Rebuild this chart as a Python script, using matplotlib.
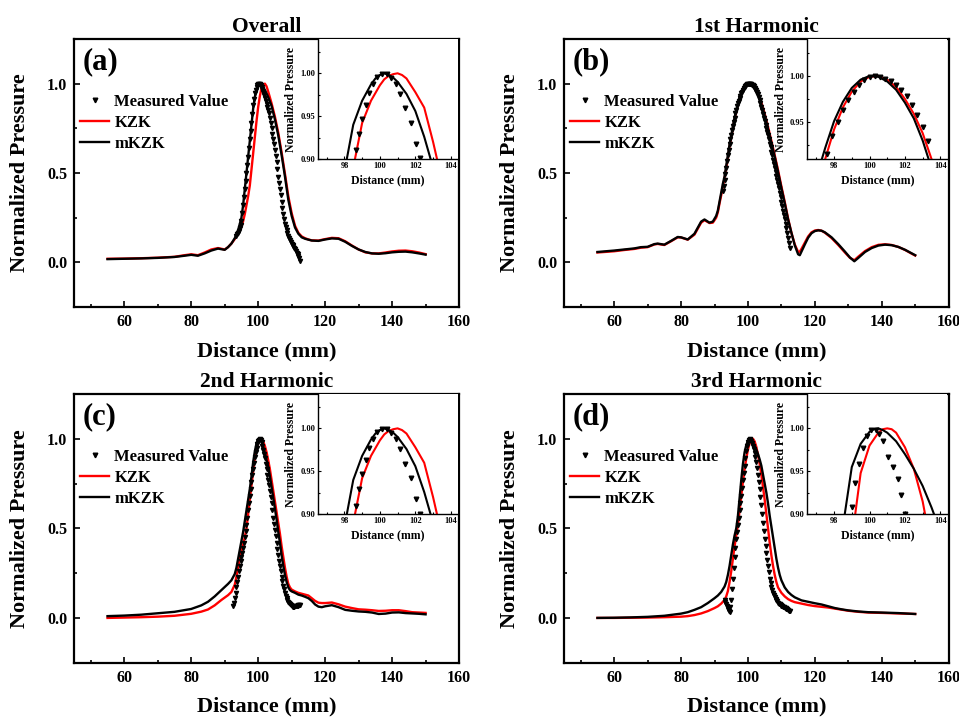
import matplotlib
matplotlib.use('Agg')
import matplotlib.pyplot as plt
from matplotlib.ticker import MultipleLocator, FormatStrFormatter

plt.rcParams['font.family'] = ['Liberation Serif', 'DejaVu Serif']
plt.rcParams['font.weight'] = 'bold'
plt.rcParams['axes.labelweight'] = 'bold'
plt.rcParams['axes.titleweight'] = 'bold'

# ---------------- (a) overall ----------------
A_X = [55, 60, 65, 70, 75, 78, 80, 82, 84, 86,
       88, 90, 91, 92, 93, 94, 95, 95.5, 96, 96.5,
       97, 97.5, 98, 98.5, 99, 99.5, 100, 100.5, 101, 101.5,
       102, 102.5, 103, 104, 105, 106, 107, 108, 109, 110,
       111, 112, 113, 114, 115, 116, 118, 120, 122, 124,
       126, 128, 130, 132, 134, 136, 138, 140, 142, 144,
       146, 148, 150]
A_MKZK = [0.018, 0.020, 0.022, 0.025, 0.030, 0.037, 0.042, 0.037, 0.050, 0.066,
          0.077, 0.070, 0.085, 0.105, 0.135, 0.18, 0.25, 0.32, 0.41, 0.50,
          0.59, 0.68, 0.77, 0.86, 0.925, 0.97, 0.993, 1.0, 0.995, 0.98,
          0.965, 0.945, 0.925, 0.875, 0.80, 0.71, 0.60, 0.48, 0.35, 0.26,
          0.195, 0.16, 0.14, 0.132, 0.127, 0.122, 0.12, 0.128, 0.134, 0.132,
          0.115, 0.092, 0.072, 0.058, 0.05, 0.048, 0.051, 0.056, 0.059, 0.06,
          0.056, 0.05, 0.043]
A_KZK = [0.020, 0.021, 0.023, 0.026, 0.031, 0.040, 0.045, 0.040, 0.055, 0.072,
         0.080, 0.072, 0.085, 0.105, 0.13, 0.16, 0.20, 0.23, 0.27, 0.32,
         0.37, 0.43, 0.52, 0.61, 0.70, 0.79, 0.87, 0.93, 0.975, 0.995,
         1.0, 0.985, 0.955, 0.89, 0.815, 0.725, 0.615, 0.495, 0.37, 0.275,
         0.205, 0.165, 0.145, 0.135, 0.128, 0.123, 0.122, 0.130, 0.137, 0.135,
         0.118, 0.094, 0.072, 0.056, 0.05, 0.05, 0.055, 0.061, 0.065, 0.066,
         0.062, 0.055, 0.046]
A_MEAS_X = [93.5, 93.75, 94, 94.25, 94.5, 94.75, 95, 95.25, 95.5, 95.75,
            96, 96.25, 96.5, 96.75, 97, 97.25, 97.5, 97.75, 98, 98.25,
            98.5, 98.75, 99, 99.25, 99.5, 99.75, 100, 100.25, 100.5, 100.75,
            101, 101.25, 101.5, 101.75, 102, 102.25, 102.5, 102.75, 103, 103.25,
            103.5, 103.75, 104, 104.25, 104.5, 104.75, 105, 105.25, 105.5, 105.75,
            106, 106.25, 106.5, 106.75, 107, 107.25, 107.5, 107.75, 108, 108.25,
            108.5, 108.75, 109, 109.25, 109.5, 109.75, 110, 110.25, 110.5, 110.75,
            111, 111.25, 111.5, 111.75, 112, 112.25, 112.5]
A_MEAS = [0.15, 0.157, 0.165, 0.177, 0.19, 0.208, 0.23, 0.275, 0.32, 0.365,
          0.41, 0.455, 0.50, 0.545, 0.59, 0.64, 0.69, 0.735, 0.78, 0.83,
          0.88, 0.915, 0.945, 0.965, 0.98, 0.992, 0.998, 1.0, 0.997, 0.991,
          0.982, 0.968, 0.953, 0.936, 0.918, 0.901, 0.885, 0.87, 0.855, 0.835,
          0.81, 0.78, 0.75, 0.72, 0.69, 0.66, 0.63, 0.595, 0.56, 0.52,
          0.48, 0.445, 0.41, 0.375, 0.34, 0.305, 0.27, 0.24, 0.215, 0.197,
          0.18, 0.165, 0.15, 0.137, 0.125, 0.115, 0.105, 0.097, 0.09, 0.083,
          0.075, 0.065, 0.055, 0.045, 0.035, 0.022, 0.01]

# ---------------- (b) 1st harmonic ----------------
B_X = [55, 60, 63, 66, 68, 70, 72, 73, 75, 77,
       79, 80, 82, 84, 86, 87, 88.5, 89.5, 90.5, 91,
       91.5, 92, 92.5, 93, 93.5, 94, 94.5, 95, 95.5, 96,
       96.5, 97, 97.5, 98, 98.5, 99, 99.5, 100.1, 101, 102,
       103, 104, 105, 106, 107, 108, 109, 110, 111, 112,
       113, 114, 115, 115.5, 116, 117, 118, 119, 120, 121,
       122, 123, 125, 127, 129, 130.5, 131.8, 133, 135, 137,
       139, 141, 143, 145, 147, 149, 150]
B_MKZK = [0.058, 0.066, 0.072, 0.078, 0.085, 0.087, 0.102, 0.105, 0.099, 0.12,
          0.142, 0.14, 0.128, 0.16, 0.228, 0.24, 0.222, 0.228, 0.26, 0.29,
          0.34, 0.39, 0.44, 0.48, 0.54, 0.6, 0.66, 0.71, 0.76, 0.81,
          0.85, 0.89, 0.925, 0.952, 0.972, 0.987, 0.996, 1.0, 0.993, 0.97,
          0.93, 0.885, 0.82, 0.745, 0.668, 0.59, 0.505, 0.415, 0.33, 0.24,
          0.165, 0.095, 0.045, 0.04, 0.06, 0.1, 0.138, 0.163, 0.175, 0.179,
          0.177, 0.168, 0.14, 0.102, 0.06, 0.027, 0.006, 0.025, 0.058, 0.08,
          0.094, 0.099, 0.096, 0.086, 0.07, 0.05, 0.04]
B_KZK = [0.055, 0.062, 0.069, 0.075, 0.082, 0.085, 0.1, 0.103, 0.097, 0.118,
         0.14, 0.139, 0.127, 0.155, 0.222, 0.236, 0.22, 0.222, 0.25, 0.28,
         0.33, 0.375, 0.425, 0.47, 0.525, 0.585, 0.645, 0.7, 0.75, 0.8,
         0.84, 0.88, 0.915, 0.945, 0.967, 0.984, 0.995, 0.999, 0.996, 0.975,
         0.94, 0.895, 0.832, 0.758, 0.68, 0.6, 0.515, 0.425, 0.338, 0.245,
         0.165, 0.1, 0.058, 0.06, 0.075, 0.11, 0.145, 0.168, 0.178, 0.181,
         0.177, 0.166, 0.136, 0.097, 0.055, 0.025, 0.012, 0.032, 0.063, 0.085,
         0.098, 0.101, 0.097, 0.086, 0.069, 0.048, 0.038]
B_MEAS_X = [92.5, 92.75, 93, 93.25, 93.5, 93.75, 94, 94.25, 94.5, 94.75,
            95, 95.25, 95.5, 95.75, 96, 96.25, 96.5, 96.75, 97, 97.25,
            97.5, 97.75, 98, 98.25, 98.5, 98.75, 99, 99.25, 99.5, 99.75,
            100, 100.25, 100.5, 100.75, 101, 101.25, 101.5, 101.75, 102, 102.25,
            102.5, 102.75, 103, 103.25, 103.5, 103.75, 104, 104.25, 104.5, 104.75,
            105, 105.25, 105.5, 105.75, 106, 106.25, 106.5, 106.75, 107, 107.25,
            107.5, 107.75, 108, 108.25, 108.5, 108.75, 109, 109.25, 109.5, 109.75,
            110, 110.25, 110.5, 110.75, 111, 111.25, 111.5, 111.75, 112, 112.25,
            112.5]
B_MEAS = [0.40, 0.43, 0.46, 0.495, 0.53, 0.565, 0.6, 0.63, 0.66, 0.688,
          0.715, 0.74, 0.765, 0.788, 0.81, 0.833, 0.855, 0.873, 0.89, 0.905,
          0.92, 0.933, 0.945, 0.955, 0.965, 0.974, 0.982, 0.988, 0.993, 0.997,
          0.999, 1.0, 1.0, 0.999, 0.997, 0.994, 0.99, 0.985, 0.978, 0.97,
          0.962, 0.952, 0.94, 0.926, 0.91, 0.89, 0.87, 0.85, 0.83, 0.81,
          0.79, 0.77, 0.75, 0.73, 0.71, 0.688, 0.665, 0.643, 0.62, 0.598,
          0.575, 0.553, 0.53, 0.508, 0.485, 0.463, 0.44, 0.415, 0.39, 0.365,
          0.34, 0.315, 0.29, 0.265, 0.24, 0.215, 0.19, 0.163, 0.135, 0.108,
          0.08]

# ---------------- (c) 2nd harmonic ----------------
C_X = [55, 60, 65, 70, 75, 80, 83, 85, 87, 89,
       91, 92, 93, 93.5, 94, 94.5, 95, 95.5, 96, 96.5,
       97, 97.5, 98, 98.5, 99, 99.5, 100, 100.5, 101, 101.5,
       102, 102.5, 103, 103.5, 104, 104.5, 105, 105.5, 106, 106.5,
       107, 107.5, 108, 108.5, 109, 109.5, 110, 111, 112, 113,
       114, 115, 116, 117, 118, 119, 120, 122, 124, 126,
       128, 130, 132, 134, 136, 138, 140, 142, 144, 146,
       148, 150]
C_MKZK = [0.010, 0.013, 0.018, 0.026, 0.034, 0.05, 0.07, 0.09, 0.12, 0.155,
          0.19, 0.21, 0.245, 0.28, 0.33, 0.38, 0.43, 0.48, 0.54, 0.60,
          0.66, 0.72, 0.79, 0.87, 0.93, 0.975, 0.997, 0.998, 0.982, 0.955,
          0.92, 0.88, 0.845, 0.79, 0.73, 0.67, 0.61, 0.55, 0.48, 0.42,
          0.35, 0.29, 0.24, 0.2, 0.17, 0.155, 0.148, 0.14, 0.13, 0.125,
          0.118, 0.11, 0.095, 0.075, 0.063, 0.06, 0.065, 0.071, 0.06, 0.045,
          0.04, 0.036, 0.034, 0.03, 0.022, 0.024, 0.03, 0.031, 0.027, 0.025,
          0.023, 0.02]
C_KZK = [0.0, 0.002, 0.004, 0.007, 0.012, 0.023, 0.035, 0.047, 0.07, 0.1,
         0.127, 0.145, 0.185, 0.23, 0.28, 0.33, 0.37, 0.41, 0.45, 0.5,
         0.58, 0.66, 0.74, 0.82, 0.89, 0.94, 0.975, 0.995, 1.0, 0.985,
         0.96, 0.925, 0.88, 0.83, 0.77, 0.71, 0.65, 0.59, 0.53, 0.47,
         0.4, 0.34, 0.28, 0.23, 0.19, 0.17, 0.158, 0.148, 0.14, 0.135,
         0.13, 0.125, 0.11, 0.095, 0.085, 0.083, 0.083, 0.086, 0.076, 0.063,
         0.055, 0.048, 0.046, 0.043, 0.039, 0.04, 0.043, 0.043, 0.038, 0.032,
         0.03, 0.028]
C_MEAS_X = [92.5, 92.75, 93, 93.25, 93.5, 93.75, 94, 94.25, 94.5, 94.75,
            95, 95.25, 95.5, 95.75, 96, 96.25, 96.5, 96.75, 97, 97.25,
            97.5, 97.75, 98, 98.25, 98.5, 98.75, 99, 99.25, 99.5, 99.75,
            100, 100.25, 100.5, 100.75, 101, 101.25, 101.5, 101.75, 102, 102.25,
            102.5, 102.75, 103, 103.25, 103.5, 103.75, 104, 104.25, 104.5, 104.75,
            105, 105.25, 105.5, 105.75, 106, 106.25, 106.5, 106.75, 107, 107.25,
            107.5, 107.75, 108, 108.25, 108.5, 108.75, 109, 109.25, 109.5, 109.75,
            110, 110.25, 110.5, 110.75, 111, 111.25, 111.5, 111.75, 112, 112.25,
            112.5]
C_MEAS = [0.065, 0.085, 0.11, 0.14, 0.17, 0.2, 0.23, 0.26, 0.29, 0.315,
          0.34, 0.365, 0.39, 0.42, 0.45, 0.485, 0.52, 0.56, 0.6, 0.64,
          0.68, 0.72, 0.76, 0.795, 0.83, 0.866, 0.9, 0.927, 0.95, 0.97,
          0.985, 0.995, 0.998, 0.992, 0.98, 0.962, 0.94, 0.916, 0.89, 0.86,
          0.83, 0.8, 0.77, 0.74, 0.71, 0.675, 0.64, 0.6, 0.56, 0.525,
          0.49, 0.455, 0.42, 0.385, 0.35, 0.32, 0.29, 0.26, 0.23, 0.205,
          0.18, 0.16, 0.14, 0.125, 0.11, 0.1, 0.09, 0.082, 0.075, 0.07,
          0.065, 0.063, 0.062, 0.063, 0.065, 0.067, 0.068, 0.069, 0.07, 0.071,
          0.072]

# ---------------- (d) 3rd harmonic ----------------
D_X = [55, 60, 65, 70, 75, 80, 82, 84, 86, 88,
       90, 91, 92, 93, 93.5, 94, 94.5, 95, 95.5, 96,
       96.5, 97, 97.5, 98, 98.5, 99, 99.5, 100, 100.5, 101,
       101.5, 102, 102.5, 103, 103.5, 104, 104.5, 105, 105.5, 106,
       106.5, 107, 107.5, 108, 108.5, 109, 109.5, 110, 111, 112,
       113, 114, 116, 118, 120, 122, 124, 126, 128, 130,
       133, 136, 140, 145, 150]
D_MKZK = [0.0, 0.001, 0.003, 0.006, 0.012, 0.024, 0.032, 0.045, 0.06, 0.083,
          0.11, 0.125, 0.145, 0.175, 0.2, 0.24, 0.29, 0.35, 0.41, 0.46,
          0.5, 0.57, 0.67, 0.77, 0.86, 0.925, 0.965, 0.99, 1.0, 0.992,
          0.978, 0.96, 0.94, 0.915, 0.885, 0.85, 0.8, 0.75, 0.7, 0.64,
          0.57, 0.51, 0.45, 0.39, 0.33, 0.28, 0.24, 0.21, 0.17, 0.145,
          0.128, 0.115, 0.098, 0.09, 0.082, 0.075, 0.065, 0.055, 0.048, 0.042,
          0.036, 0.032, 0.03, 0.027, 0.022]
D_KZK = [0.0, 0.0, 0.001, 0.002, 0.004, 0.007, 0.01, 0.016, 0.025, 0.038,
         0.055, 0.065, 0.08, 0.1, 0.12, 0.15, 0.2, 0.26, 0.33, 0.4,
         0.46, 0.52, 0.6, 0.68, 0.76, 0.83, 0.89, 0.94, 0.975, 0.995,
         1.0, 0.985, 0.955, 0.91, 0.86, 0.8, 0.73, 0.66, 0.58, 0.5,
         0.42, 0.35, 0.29, 0.24, 0.2, 0.17, 0.155, 0.14, 0.12, 0.105,
         0.095, 0.088, 0.08, 0.072, 0.066, 0.062, 0.058, 0.052, 0.046, 0.04,
         0.034, 0.03, 0.028, 0.025, 0.022]
D_MEAS_X = [93, 93.25, 93.5, 93.75, 94, 94.25, 94.5, 94.75, 95, 95.25,
            95.5, 95.75, 96, 96.25, 96.5, 96.75, 97, 97.25, 97.5, 97.75,
            98, 98.25, 98.5, 98.75, 99, 99.25, 99.5, 99.75, 100, 100.25,
            100.5, 100.75, 101, 101.25, 101.5, 101.75, 102, 102.25, 102.5, 102.75,
            103, 103.25, 103.5, 103.75, 104, 104.25, 104.5, 104.75, 105, 105.25,
            105.5, 105.75, 106, 106.25, 106.5, 106.75, 107, 107.25, 107.5, 107.75,
            108, 108.25, 108.5, 108.75, 109, 109.25, 109.5, 109.75, 110, 110.25,
            110.5, 110.75, 111, 111.25, 111.5, 111.75, 112, 112.25, 112.5]
D_MEAS = [0.1, 0.09, 0.08, 0.065, 0.05, 0.04, 0.035, 0.06, 0.1, 0.16,
          0.22, 0.28, 0.34, 0.39, 0.44, 0.48, 0.52, 0.56, 0.6, 0.64,
          0.68, 0.725, 0.77, 0.81, 0.85, 0.89, 0.93, 0.96, 0.98, 0.993,
          1.0, 0.995, 0.985, 0.974, 0.96, 0.942, 0.92, 0.896, 0.87, 0.837,
          0.8, 0.76, 0.72, 0.675, 0.63, 0.58, 0.53, 0.485, 0.44, 0.4,
          0.36, 0.325, 0.29, 0.255, 0.22, 0.195, 0.17, 0.155, 0.14, 0.127,
          0.115, 0.107, 0.1, 0.092, 0.085, 0.08, 0.075, 0.071, 0.068, 0.065,
          0.062, 0.06, 0.057, 0.055, 0.052, 0.049, 0.045, 0.041, 0.037]

# ---------------- zoomed peaks (insets) ----------------
# (a) and (c) share the same zoomed view
AC_IN_MKZK_X = [97.5, 98, 98.5, 99, 99.5, 99.75, 100, 100.25, 100.5, 100.75, 101,
                101.5, 102, 102.5, 103, 103.5]
AC_IN_MKZK = [0.84, 0.885, 0.94, 0.968, 0.987, 0.994, 0.998, 1.0, 0.998, 0.995, 0.99,
              0.976, 0.956, 0.926, 0.89, 0.85]
AC_IN_KZK_X = [98, 98.5, 99, 99.5, 100, 100.25, 100.5, 100.75, 101, 101.25, 101.5,
               102, 102.5, 103, 103.5]
AC_IN_KZK = [0.845, 0.89, 0.942, 0.968, 0.986, 0.993, 0.997, 0.999, 1.0, 0.998, 0.994,
             0.978, 0.96, 0.92, 0.875]
AC_IN_MEAS_X = [98.45, 98.64, 98.81, 99.02, 99.23, 99.40, 99.61, 99.85, 100.14, 100.4,
                100.65, 100.9, 101.14, 101.43, 101.73, 102.01, 102.26, 102.5]
AC_IN_MEAS = [0.89, 0.910, 0.929, 0.947, 0.963, 0.977, 0.988, 0.996, 0.999, 0.999,
              0.995, 0.988, 0.976, 0.959, 0.942, 0.918, 0.901, 0.88]

B_IN_X = [97, 97.5, 98, 98.5, 99, 99.5, 100, 100.5, 101, 101.5, 102, 102.5, 103, 103.5]
B_IN_MKZK = [0.89, 0.922, 0.951, 0.972, 0.987, 0.996, 1.0, 0.999, 0.994, 0.985, 0.971, 0.954, 0.93, 0.9]
B_IN_KZK = [0.875, 0.91, 0.942, 0.966, 0.983, 0.994, 0.999, 1.0, 0.996, 0.988, 0.975, 0.959, 0.938, 0.91]
B_IN_MEAS_X = [97.6, 97.9, 98.2, 98.5, 98.8, 99.1, 99.4, 99.7, 100.0, 100.3,
               100.6, 100.9, 101.2, 101.5, 101.8, 102.1, 102.4, 102.7, 103.0, 103.3]
B_IN_MEAS = [0.915, 0.935, 0.95, 0.963, 0.974, 0.983, 0.99, 0.996, 0.999, 1.0,
             0.999, 0.997, 0.994, 0.99, 0.985, 0.978, 0.969, 0.958, 0.945, 0.93]

D_IN_MKZK_X = [98.5, 99, 99.5, 100, 100.25, 100.5, 100.75, 101, 101.5, 102, 102.5, 103, 103.5, 104]
D_IN_MKZK = [0.886, 0.955, 0.982, 0.996, 0.999, 1.0, 0.998, 0.995, 0.985, 0.97, 0.953, 0.933, 0.908, 0.88]
D_IN_KZK_X = [99, 99.5, 100, 100.5, 100.75, 101, 101.25, 101.5, 102, 102.5, 103, 103.5]
D_IN_KZK = [0.87, 0.948, 0.98, 0.995, 0.999, 1.0, 0.999, 0.995, 0.978, 0.953, 0.915, 0.86]
D_IN_MEAS_X = [98.99, 99.18, 99.43, 99.65, 99.87, 100.1, 100.38, 100.55, 100.76, 101.05,
               101.33, 101.58, 101.77, 102.0]
D_IN_MEAS = [0.909, 0.936, 0.959, 0.977, 0.991, 0.998, 0.998, 0.994, 0.985, 0.967,
             0.955, 0.941, 0.923, 0.9]


def main_panel(ax, x, kzk, mkzk, mx, meas, title, tag):
    ax.plot(mx, meas, 'v', color='k', ms=3.0, label='Measured Value', zorder=4)
    ax.plot(x, kzk, color='red', lw=1.7, label='KZK', zorder=2)
    ax.plot(x, mkzk, color='k', lw=1.7, label='mKZK', zorder=3)
    ax.set_xlim(45, 160)
    ax.set_ylim(-0.25, 1.25)
    ax.xaxis.set_major_locator(MultipleLocator(20))
    ax.xaxis.set_minor_locator(MultipleLocator(10))
    ax.yaxis.set_major_locator(MultipleLocator(0.5))
    ax.yaxis.set_minor_locator(MultipleLocator(0.25))
    ax.yaxis.set_major_formatter(FormatStrFormatter('%.1f'))
    ax.tick_params(which='both', direction='in', top=False, right=False,
                   width=1.2, labelsize=11.5, pad=5)
    ax.tick_params(which='major', length=4)
    ax.tick_params(which='minor', length=2.5)
    for sp in ax.spines.values():
        sp.set_linewidth(1.6)
    ax.set_title(title, fontsize=15.5, pad=5)
    ax.set_xlabel('Distance (mm)', fontsize=16, labelpad=8)
    ax.set_ylabel('Normalized Pressure', fontsize=16, labelpad=12)
    ax.text(0.022, 0.915, tag, transform=ax.transAxes, fontsize=22,
            va='center', ha='left')
    ax.legend(loc='upper left', bbox_to_anchor=(0.016, 0.795), frameon=False,
              fontsize=12, handlelength=1.75, handletextpad=0.3,
              labelspacing=0.3, borderpad=0, borderaxespad=0, numpoints=1,
              markerscale=1.1)


def inset_panel(ax, kx, kzk, mxk, mkzk, px, meas, ylim):
    ins = ax.inset_axes([0.633, 0.552, 0.364, 0.448])
    ins.plot(px, meas, 'v', color='k', ms=3.3, zorder=4)
    ins.plot(kx, kzk, color='red', lw=1.5, zorder=2)
    ins.plot(mxk, mkzk, color='k', lw=1.5, zorder=3)
    ins.set_xlim(96.5, 104.4)
    ins.set_ylim(*ylim)
    ins.xaxis.set_major_locator(MultipleLocator(2))
    ins.xaxis.set_minor_locator(MultipleLocator(1))
    ins.yaxis.set_major_locator(MultipleLocator(0.05))
    ins.yaxis.set_minor_locator(MultipleLocator(0.025))
    ins.yaxis.set_major_formatter(FormatStrFormatter('%.2f'))
    ins.tick_params(which='both', direction='in', top=False, right=False,
                    width=0.8, labelsize=6, pad=2)
    ins.tick_params(which='major', length=2.5)
    ins.tick_params(which='minor', length=1.5)
    ins.spines['top'].set_visible(False)
    ins.spines['right'].set_visible(False)
    for s in ('left', 'bottom'):
        ins.spines[s].set_linewidth(1.0)
    ins.set_xlabel('Distance (mm)', fontsize=8.5, labelpad=3)
    ins.set_ylabel('Normalized Pressure', fontsize=8.5, labelpad=2)
    return ins


fig = plt.figure(figsize=(9.59, 7.18), dpi=100)
ax_a = fig.add_axes([0.0772, 0.5724, 0.4015, 0.3733])
ax_b = fig.add_axes([0.5881, 0.5724, 0.4011, 0.3733])
ax_c = fig.add_axes([0.0772, 0.0770, 0.4015, 0.3743])
ax_d = fig.add_axes([0.5881, 0.0770, 0.4011, 0.3743])

main_panel(ax_a, A_X, A_KZK, A_MKZK, A_MEAS_X, A_MEAS, 'Overall', '(a)')
main_panel(ax_b, B_X, B_KZK, B_MKZK, B_MEAS_X, B_MEAS, '1st Harmonic', '(b)')
main_panel(ax_c, C_X, C_KZK, C_MKZK, C_MEAS_X, C_MEAS, '2nd Harmonic', '(c)')
main_panel(ax_d, D_X, D_KZK, D_MKZK, D_MEAS_X, D_MEAS, '3rd Harmonic', '(d)')

inset_panel(ax_a, AC_IN_KZK_X, AC_IN_KZK, AC_IN_MKZK_X, AC_IN_MKZK,
            AC_IN_MEAS_X, AC_IN_MEAS, (0.90, 1.04))
inset_panel(ax_b, B_IN_X, B_IN_KZK, B_IN_X, B_IN_MKZK,
            B_IN_MEAS_X, B_IN_MEAS, (0.91, 1.04))
inset_panel(ax_c, AC_IN_KZK_X, AC_IN_KZK, AC_IN_MKZK_X, AC_IN_MKZK,
            AC_IN_MEAS_X, AC_IN_MEAS, (0.90, 1.04))
inset_panel(ax_d, D_IN_KZK_X, D_IN_KZK, D_IN_MKZK_X, D_IN_MKZK,
            D_IN_MEAS_X, D_IN_MEAS, (0.90, 1.04))

fig.savefig('out.png', dpi=100)
